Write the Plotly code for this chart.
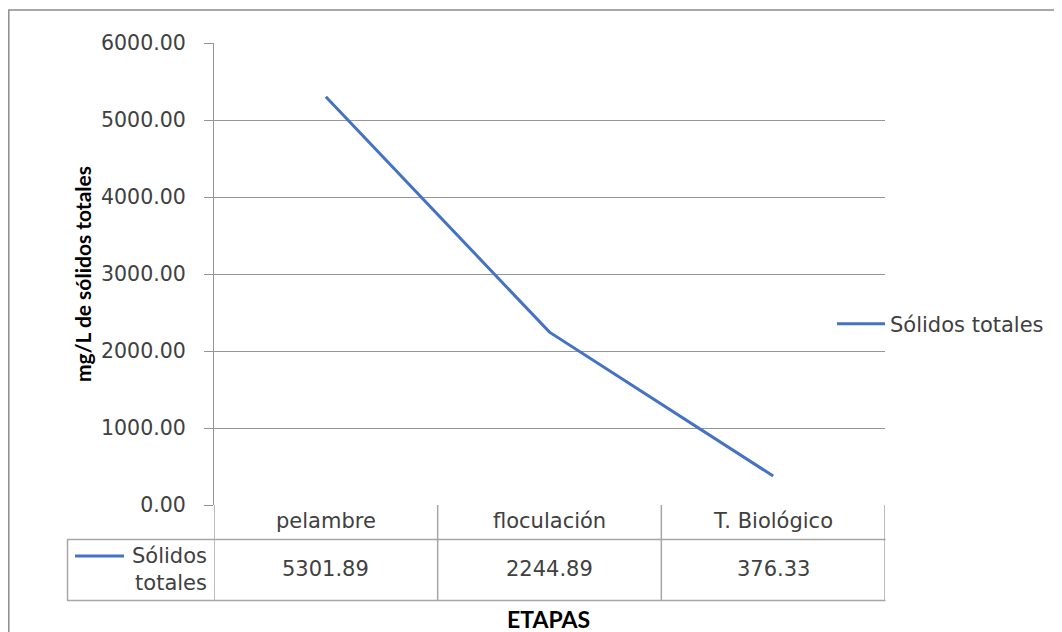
import plotly.graph_objects as go

categories = ["pelambre", "floculación", "T. Biológico"]
values = [5301.89, 2244.89, 376.33]
series_name = "Sólidos totales"
y_ticks = [0, 1000, 2000, 3000, 4000, 5000, 6000]
y_title = "mg/L de sólidos totales"
x_title = "ETAPAS"

# page body has an 8px margin; figure fits the remaining viewport
OFF = 8
W, H = 1062 - OFF, 632 - OFF
def PX(x): return (x - OFF) / W
def PY(y): return 1 - (y - OFF) / H

FONT = "DejaVu Sans"
TXT = "#404040"
GRID = "#969696"
TAB = "#a6a6a6"
BLUE = "#4472C4"

x_idx = list(range(len(categories)))

fig = go.Figure()
fig.add_trace(go.Scatter(x=x_idx, y=values, mode="lines", name=series_name,
                         line=dict(color=BLUE, width=3), showlegend=True))

shapes = []
# outer chart frame
shapes.append(dict(type="rect", xref="paper", yref="paper", x0=PX(8.8), x1=PX(1075), y0=PY(645), y1=PY(10),
                   line=dict(color="#8c8c8c", width=1.5), layer="below"))
# data table
y_top = PY(505); y_mid = PY(539.5); y_bot = PY(600.5)
for b in [-0.5, 0.5, 1.5, 2.5]:
    shapes.append(dict(type="line", xref="x", yref="paper", x0=b, x1=b, y0=y_bot, y1=y_top,
                       line=dict(color=TAB, width=1.5)))
shapes.append(dict(type="line", xref="paper", yref="paper", x0=PX(67.5), x1=PX(67.5), y0=y_bot, y1=y_mid,
                   line=dict(color=TAB, width=1.5)))
for yy in [y_mid, y_bot]:
    shapes.append(dict(type="line", xref="paper", yref="paper", x0=PX(67), x1=PX(885.5), y0=yy, y1=yy,
                       line=dict(color=TAB, width=1.5)))
# legend key in table
shapes.append(dict(type="line", xref="paper", yref="paper", x0=PX(75), x1=PX(124), y0=PY(556), y1=PY(556),
                   line=dict(color=BLUE, width=3)))

annotations = []
for i, c in enumerate(categories):
    annotations.append(dict(x=i, y=PY(521), xref="x", yref="paper", text=c, showarrow=False,
                            font=dict(family=FONT, size=21, color=TXT), xanchor="center", yanchor="middle"))
    annotations.append(dict(x=i, y=PY(569), xref="x", yref="paper", text=f"{values[i]:.2f}", showarrow=False,
                            font=dict(family=FONT, size=21, color=TXT), xanchor="center", yanchor="middle"))
annotations.append(dict(x=PX(209), y=PY(569), xref="paper", yref="paper",
                        text=series_name.replace(" ", "<br>"), showarrow=False, align="right",
                        font=dict(family=FONT, size=21, color=TXT), xanchor="right", yanchor="middle"))
annotations.append(dict(x=PX(548), y=PY(619), xref="paper", yref="paper", text="<b>" + x_title + "</b>",
                        showarrow=False, font=dict(family="Lato", size=23, color="#000000"),
                        xanchor="center", yanchor="middle"))

fig.update_layout(
    width=W, height=H, margin=dict(l=0, r=0, t=0, b=0, autoexpand=False),
    paper_bgcolor="white", plot_bgcolor="white",
    font=dict(family=FONT, color=TXT),
    xaxis=dict(domain=[PX(214), PX(885)], range=[-0.5, 2.5], showticklabels=False, showgrid=False,
               zeroline=False, showline=False, ticks="", fixedrange=True, automargin=False),
    yaxis=dict(domain=[PY(505), PY(43)], range=[0, 6000], tickvals=y_ticks, automargin=False,
               ticktext=[f"{v:.2f}" for v in y_ticks], tickfont=dict(family=FONT, size=20.5, color=TXT),
               showgrid=True, gridcolor=GRID, gridwidth=1.2, zeroline=False,
               showline=True, linecolor=GRID, linewidth=1.2, ticks="outside", ticklen=9,
               tickcolor=GRID, tickwidth=1.2, ticklabelstandoff=14,
               title=dict(text="<b>" + y_title + "</b>", font=dict(family="Lato", size=21, color="#000000"),
                          standoff=3)),
    showlegend=True,
    legend=dict(x=PX(832), y=PY(324), xanchor="left", yanchor="middle", bgcolor="rgba(0,0,0,0)",
                font=dict(family=FONT, size=21, color=TXT), itemwidth=48),
    shapes=shapes, annotations=annotations,
)

fig.write_html("out.html")
